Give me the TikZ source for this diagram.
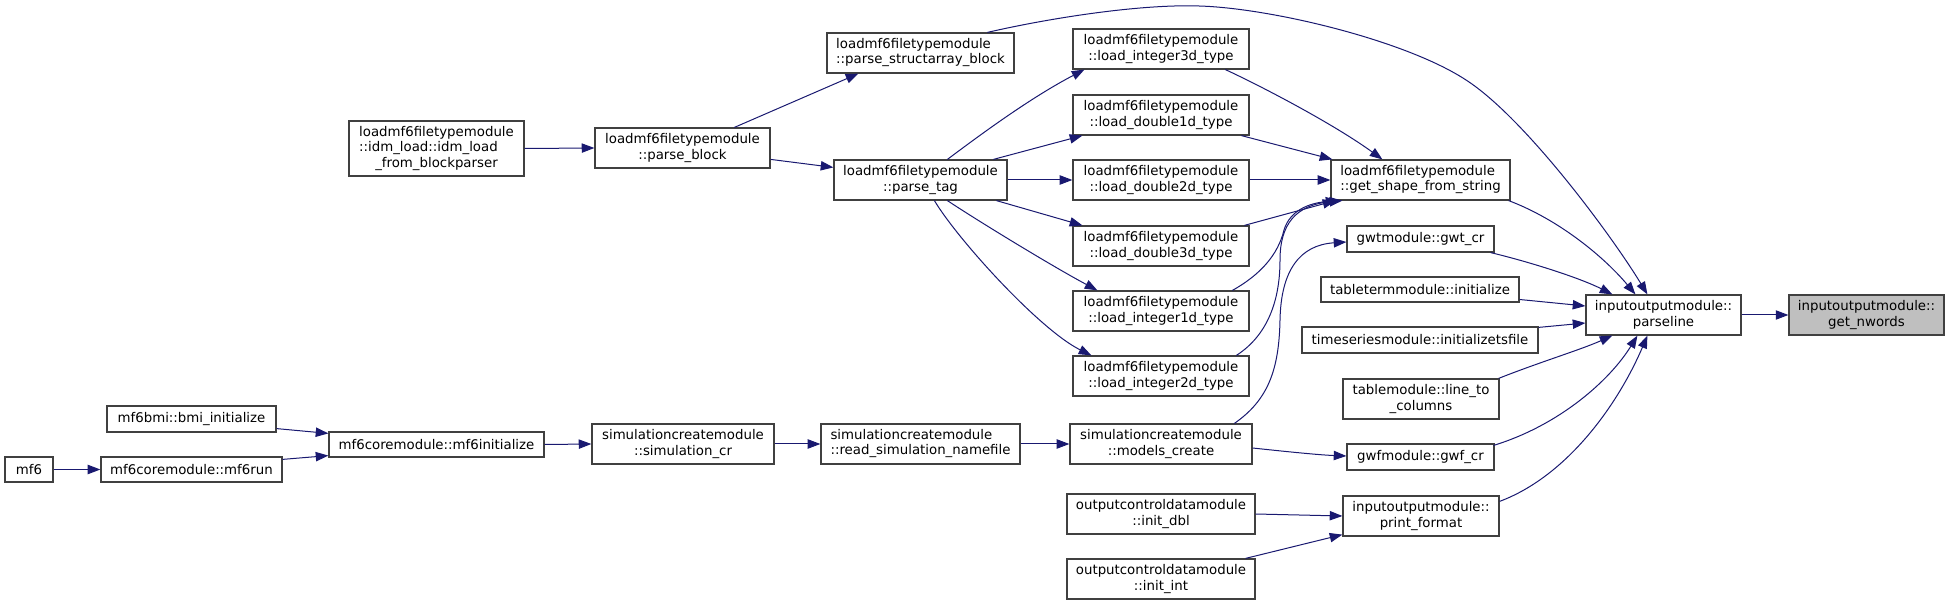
\documentclass[tikz,border=0pt]{standalone}
\usepackage{fontspec}
\setmainfont{DejaVu Sans}
\usetikzlibrary{arrows.meta,calc}
\definecolor{edgecol}{HTML}{191970}
\definecolor{bordercol}{HTML}{404040}
\definecolor{hlfill}{HTML}{BFBFBF}
\tikzset{
  box/.style={draw=bordercol, line width=0.9pt, fill=white, inner sep=0pt, align=center,
    font=\fontsize{10}{11.6}\selectfont, text=black},
  edge/.style={draw=edgecol, line width=0.75pt, -{Triangle[length=9.5pt,width=7pt]}},
}
\newcommand\mkbox[7][]{%
  \pgfmathsetmacro\mkbw{(#5-#3)*0.75}%
  \pgfmathsetmacro\mkbh{(#6-#4)*0.75}%
  \node[box, minimum width=\mkbw pt, minimum height=\mkbh pt, #1] (#2) at ({(#3+#5)/2},{(#4+#6)/2}) {#7};%
}
\begin{document}
\begin{tikzpicture}[x=0.75pt, y=-0.75pt]
\useasboundingbox (0,0) rectangle (1949,605);
% nodes
\mkbox{idm}{349}{121}{524}{176}{\begin{tabular}{@{}l@{}}loadmf6filetypemodule\\::idm\_load::idm\_load\\\multicolumn{1}{@{}c@{}}{\_from\_blockparser}\end{tabular}}
\mkbox{pblock}{595}{128}{770}{168}{loadmf6filetypemodule\\::parse\_block}
\mkbox{psab}{827}{33}{1014}{73}{\begin{tabular}{@{}l@{}}loadmf6filetypemodule\\::parse\_structarray\_block\end{tabular}}
\mkbox{ptag}{834}{160}{1007}{200}{loadmf6filetypemodule\\::parse\_tag}
\mkbox{i3d}{1073}{29}{1249}{69}{loadmf6filetypemodule\\::load\_integer3d\_type}
\mkbox{d1d}{1073}{95}{1249}{135}{loadmf6filetypemodule\\::load\_double1d\_type}
\mkbox{d2d}{1073}{160}{1249}{200}{loadmf6filetypemodule\\::load\_double2d\_type}
\mkbox{d3d}{1073}{226}{1249}{266}{loadmf6filetypemodule\\::load\_double3d\_type}
\mkbox{i1d}{1073}{291}{1249}{331}{loadmf6filetypemodule\\::load\_integer1d\_type}
\mkbox{i2d}{1073}{356}{1249}{396}{loadmf6filetypemodule\\::load\_integer2d\_type}
\mkbox{gss}{1331}{160}{1510}{200}{\begin{tabular}{@{}l@{}}loadmf6filetypemodule\\::get\_shape\_from\_string\end{tabular}}
\mkbox{gwt}{1347}{226}{1494}{252}{gwtmodule::gwt\_cr}
\mkbox{tterm}{1321}{277}{1519}{302}{tabletermmodule::initialize}
\mkbox{tsf}{1302}{327}{1538}{353}{timeseriesmodule::initializetsfile}
\mkbox{ltc}{1343}{379}{1499}{419}{tablemodule::line\_to\\\_columns}
\mkbox{gwf}{1347}{444}{1494}{470}{gwfmodule::gwf\_cr}
\mkbox{pfmt}{1343}{496}{1499}{536}{inputoutputmodule::\\print\_format}
\mkbox{pline}{1586}{295}{1741}{335}{inputoutputmodule::\\parseline}
\mkbox[fill=hlfill]{nwords}{1789}{295}{1944}{335}{inputoutputmodule::\\get\_nwords}
\mkbox{bmi}{107}{406}{276}{432}{mf6bmi::bmi\_initialize}
\mkbox{mf6init}{329}{432}{544}{457}{mf6coremodule::mf6initialize}
\mkbox{mf6}{5}{457}{53}{482}{mf6}
\mkbox{mf6run}{101}{457}{282}{482}{mf6coremodule::mf6run}
\mkbox{simcr}{592}{424}{774}{464}{simulationcreatemodule\\::simulation\_cr}
\mkbox{readsim}{821}{424}{1020}{464}{\begin{tabular}{@{}l@{}}simulationcreatemodule\\::read\_simulation\_namefile\end{tabular}}
\mkbox{mcreate}{1070}{424}{1252}{464}{simulationcreatemodule\\::models\_create}
\mkbox{idbl}{1067}{494}{1255}{534}{outputcontroldatamodule\\::init\_dbl}
\mkbox{iint}{1067}{559}{1255}{599}{outputcontroldatamodule\\::init\_int}
% edges
\draw[edge] (idm.east) -- (pblock.west);
\draw[edge] ($(pblock.north west)+(140,0)$) -- ($(psab.south west)+(32,0)$);
\draw[edge] ($(pblock.north east)+(0,32)$) -- ($(ptag.north west)+(0,8)$);
\draw[edge] ($(psab.north west)+(161,0)$) .. controls (1050,18) and (1140,4) .. (1199,6)
  .. controls (1270,8) and (1405,40) .. (1466,80)
  .. controls (1525,118) and (1612,236) .. ($(pline.north west)+(62,0)$);
\draw[edge] ($(ptag.north west)+(114,0)$) .. controls (980,135) and (1030,98) .. ($(i3d.south west)+(12,0)$);
\draw[edge] ($(ptag.north west)+(160,0)$) -- ($(d1d.south west)+(10,0)$);
\draw[edge] (ptag.east) -- (d2d.west);
\draw[edge] ($(ptag.south west)+(163,0)$) -- ($(d3d.north west)+(10,0)$);
\draw[edge] ($(ptag.south west)+(114,0)$) .. controls (975,219) and (1050,265) .. ($(i1d.north west)+(25,0)$);
\draw[edge] ($(ptag.south west)+(101,0)$) .. controls (958,240) and (1040,330) .. ($(i2d.north west)+(19,0)$);
\draw[edge] ($(i3d.south west)+(153,0)$) .. controls (1265,88) and (1335,125) .. ($(gss.north west)+(52,0)$);
\draw[edge] ($(d1d.south west)+(169,0)$) -- ($(gss.north west)+(2,0)$);
\draw[edge] (d2d.east) -- (gss.west);
\draw[edge] ($(d3d.north west)+(172,0)$) -- ($(gss.south west)+(5,0)$);
\draw[edge] ($(i1d.north west)+(160,0)$) .. controls (1260,275) and (1278,255) .. (1284,230)
  .. controls (1290,210) and (1310,203) .. ($(gss.south west)+(8,0)$);
\draw[edge] ($(i2d.north west)+(164,0)$) .. controls (1268,335) and (1280,300) .. (1280,260)
  .. controls (1280,225) and (1295,205) .. ($(gss.south west)+(12,0)$);
\draw[edge] ($(mcreate.north west)+(165,0)$) .. controls (1268,400) and (1279,370) .. (1280,320)
  .. controls (1281,270) and (1300,245) .. ($(gwt.west)+(0,3)$);
\draw[edge] ($(mcreate.east)+(0,4)$) .. controls (1290,452) and (1320,455) .. ($(gwf.west)+(0,-1)$);
\draw[edge] ($(gss.south east)+(-2,0)$) .. controls (1560,220) and (1605,258) .. ($(pline.north west)+(50,0)$);
\draw[edge] ($(gwt.south east)+(-4,0)$) .. controls (1530,262) and (1580,278) .. ($(pline.north west)+(27,0)$);
\draw[edge] ($(tterm.east)+(0,10)$) -- ($(pline.west)+(0,-9)$);
\draw[edge] ($(tsf.north east)+(0,1)$) -- ($(pline.west)+(0,8)$);
\draw[edge] ($(ltc.north east)+(-1,0)$) .. controls (1540,362) and (1580,350) .. ($(pline.south west)+(27,0)$);
\draw[edge] ($(gwf.north east)+(-1,2)$) .. controls (1560,425) and (1610,380) .. ($(pline.south west)+(52,0)$);
\draw[edge] ($(pfmt.north east)+(0,6)$) .. controls (1570,475) and (1620,400) .. ($(pline.south west)+(62,0)$);
\draw[edge] (pline.east) -- (nwords.west);
\draw[edge] (idbl.east) -- (pfmt.west);
\draw[edge] ($(iint.north east)+(-10,0)$) -- ($(pfmt.south west)+(0,-2)$);
\draw[edge] ($(bmi.south east)+(0,-4)$) -- ($(mf6init.north west)+(0,2)$);
\draw[edge] ($(mf6run.north east)+(0,3)$) -- ($(mf6init.south west)+(0,-2)$);
\draw[edge] (mf6.east) -- (mf6run.west);
\draw[edge] (mf6init.east) -- (simcr.west);
\draw[edge] (simcr.east) -- (readsim.west);
\draw[edge] (readsim.east) -- (mcreate.west);
\end{tikzpicture}
\end{document}
